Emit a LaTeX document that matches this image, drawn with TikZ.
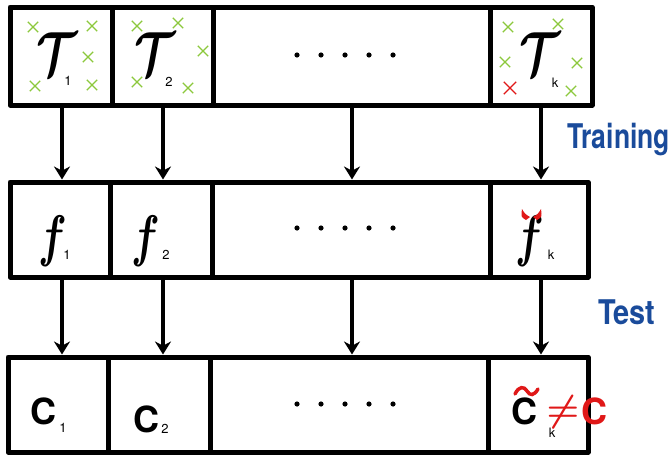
\documentclass[tikz,border=0pt]{standalone}
\usepackage{amsmath}
\usepackage{fontspec}
\setsansfont{TeX Gyre Heros}
\usetikzlibrary{arrows.meta,shapes.misc}
\definecolor{xgreen}{HTML}{8CC83C}
\definecolor{xred}{HTML}{E01818}
\definecolor{xblue}{HTML}{1A4B9B}
\newcommand{\bigsym}[3]{\scalebox{#1}[#2]{\Huge$\boldsymbol{#3}$}}
\begin{document}
\begin{tikzpicture}[x=1pt,y=-1pt,
  cell/.style={draw=black,line width=5pt,inner sep=0pt,line join=round},
  arr/.style={line width=3.5pt,-{Stealth[length=13pt,width=16pt]}},
  xmark/.style={cross out,draw=xgreen,line width=1.4pt,minimum size=9pt,inner sep=0pt},
  rmark/.style={cross out,draw=xred,line width=1.4pt,minimum size=11pt,inner sep=0pt},
  sym/.style={inner sep=0pt},
  bigC/.style={font=\fontsize{36}{40}\selectfont\sffamily\bfseries,inner sep=0pt},
  sub/.style={font=\fontsize{13}{14}\selectfont\sffamily,inner sep=0pt},
  lbl/.style={font=\fontsize{34}{38}\selectfont\sffamily\bfseries,text=xblue,inner sep=0pt}
]
\useasboundingbox (0,0) rectangle (672,455);
% row 1
\node[cell,minimum width=102pt,minimum height=98pt] (a1) at (61,56) {};
\node[cell,minimum width=101pt,minimum height=98pt] (a2) at (162.5,56) {};
\node[cell,minimum width=277pt,minimum height=98pt] (a3) at (351.5,56) {};
\node[cell,minimum width=102pt,minimum height=98pt] (a4) at (541,56) {};
% row 2
\node[cell,minimum width=100pt,minimum height=95pt] (b1) at (60,229.5) {};
\node[cell,minimum width=102pt,minimum height=95pt] (b2) at (161,229.5) {};
\node[cell,minimum width=278pt,minimum height=95pt] (b3) at (351,229.5) {};
\node[cell,minimum width=98pt,minimum height=95pt] (b4) at (539,229.5) {};
% row 3
\node[cell,minimum width=100pt,minimum height=95pt] (c1) at (58,404.5) {};
\node[cell,minimum width=102pt,minimum height=95pt] (c2) at (159,404.5) {};
\node[cell,minimum width=278pt,minimum height=95pt] (c3) at (349,404.5) {};
\node[cell,minimum width=100pt,minimum height=95pt] (c4) at (538,404.5) {};
% arrows
\coordinate (p1) at (62,0);
\coordinate (p2) at (163,0);
\coordinate (p3) at (352,0);
\coordinate (p4) at (541,0);
\foreach \i in {1,2,3,4}{
  \draw[arr] (a\i.south -| p\i) -- (b\i.north -| p\i);
  \draw[arr] (b\i.south -| p\i) -- (c\i.north -| p\i);
}
% dots
\foreach \r in {55,228,404}{
  \foreach \d in {0,1,2,3,4}{
    \fill (297+24*\d,\r) circle (2.6pt);
  }
}
% row 1 content
\node[sym] (t1) at (57,54) {\bigsym{1.8}{2.5}{\mathcal{T}}};
\node[sub] (t1s) at (68,81) {1};
\node[sym] (t2) at (155,54) {\bigsym{1.8}{2.5}{\mathcal{T}}};
\node[sub] (t2s) at (169,82) {2};
\node[sym] (t4) at (540,54) {\bigsym{1.8}{2.5}{\mathcal{T}}};
\node[sub] (t4s) at (555,83) {k};
\foreach \x/\y [count=\n] in {33/27,92/26,88/57,35/86,92/85,137/26,178/23,203/51,137/82,188/88,508/27,558/24,505/62,577/63,571/91}{
  \node[xmark] (g\n) at (\x,\y) {};
}
\node[rmark] (r1) at (510,88) {};
% row 2 content
\node[sym] (f1) at (53,241) {\bigsym{1.7}{2.3}{f}};
\node[sub] (f1s) at (67,255) {1};
\node[sym] (f2) at (146,241) {\bigsym{1.7}{2.3}{f}};
\node[sub] (f2s) at (166,255) {2};
\node[sym] (f4) at (530,241) {\bigsym{1.7}{2.3}{f}};
\node[sub] (f4s) at (551,255) {k};
\fill[xred] (526,220) .. controls (521,217) .. (522,209) .. controls (525,214) .. (530,217) -- cycle;
\fill[xred] (537,220) .. controls (542,217) .. (541,209) .. controls (538,214) .. (533,217) -- cycle;
% row 3 content
\node[bigC] (k1) at (43,411) {C};
\node[sub] (k1s) at (63,428) {1};
\node[bigC] (k2) at (146,419) {C};
\node[sub] (k2s) at (165,429) {2};
\node[bigC] (k4) at (524,411) {C};
\node[sub] (k4s) at (552,433) {k};
\draw[xred,line width=3.5pt,line cap=round] (515,394) .. controls (519,386) and (524,386) .. (527,391) .. controls (530,396) and (534,396) .. (538,389);
\node[sym,text=xred] (ne) at (563,412) {\bigsym{1.5}{1.5}{\neq}};
\node[bigC,text=xred] (kr) at (594,411) {C};
% labels
\node[lbl,anchor=west,xscale=0.78] (tr) at (567,140) {Training};
\node[lbl,anchor=west,xscale=0.85] (te) at (598,312) {Test};
\end{tikzpicture}
\end{document}
